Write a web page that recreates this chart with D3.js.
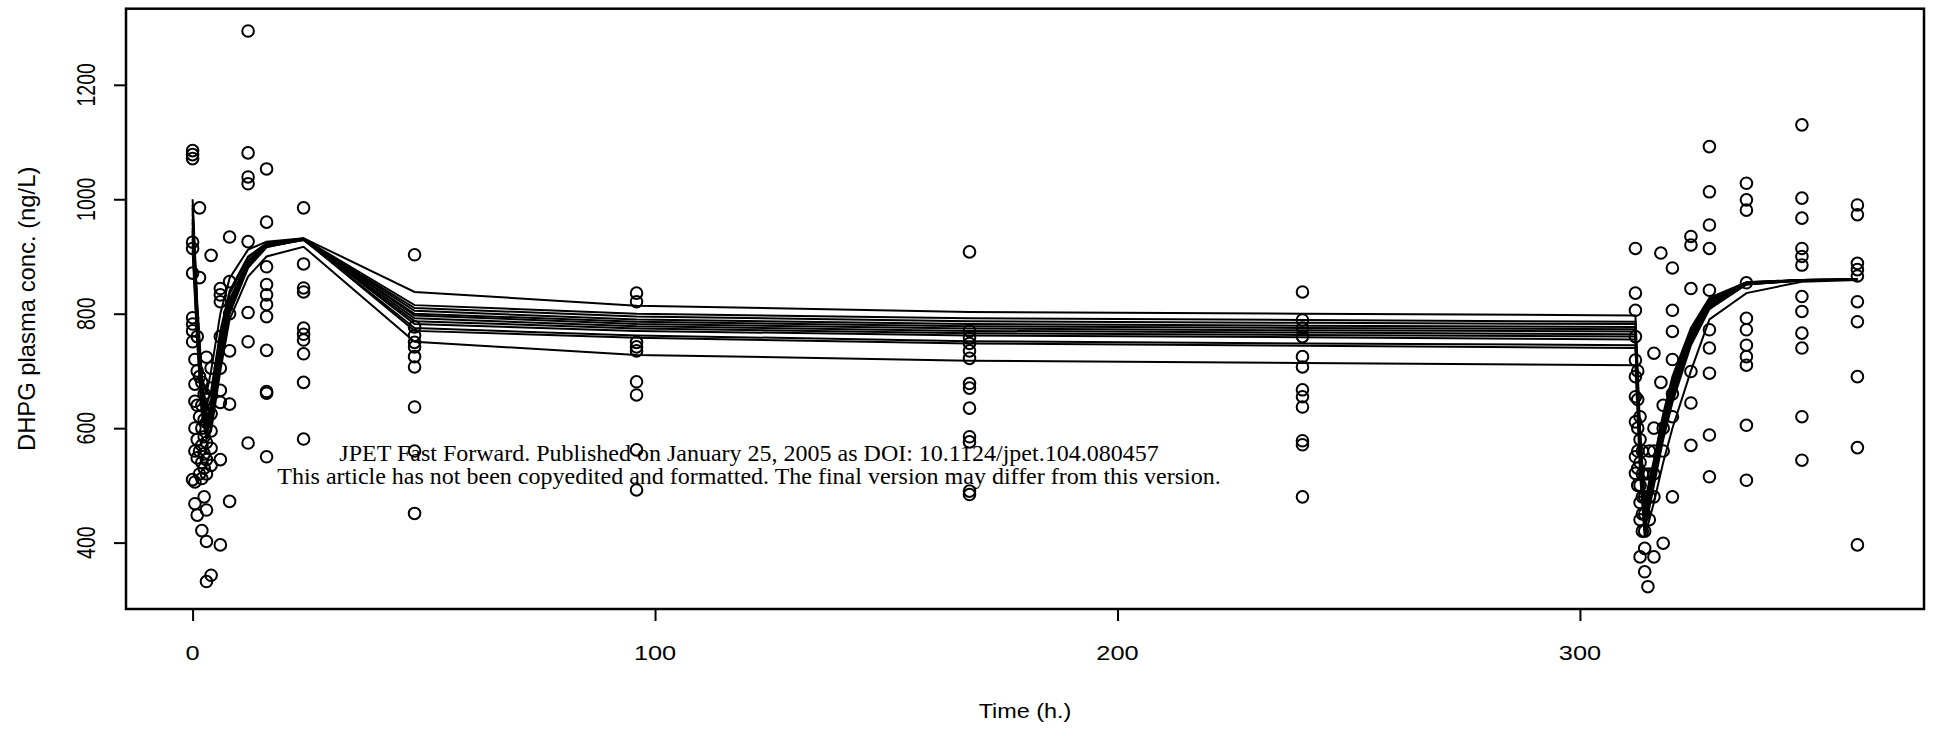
<!DOCTYPE html>
<html>
<head>
<meta charset="utf-8">
<script src="https://cdn.jsdelivr.net/npm/d3@7"></script>
<style>
    body { margin: 0; background: #fff; }
    svg { display: block; }
    text { font-family: "Liberation Sans", Arial, Helvetica, sans-serif; fill: #000; }
    .watermark { font-family: "Liberation Serif", "Times New Roman", serif; }
</style>
</head>
<body>
<div id="chart"></div>
<script>
// model fit times (h) shared by every subject curve
var curveTimes = [0, 1, 2, 3, 4, 6, 8, 12, 16, 24, 48, 96, 168, 240, 312, 313, 314, 316, 318, 320, 324, 328, 336, 348, 360]

// individual predicted DHPG (ng/L), one row per subject
var subjectCurves = [
    [1000, 820, 690, 660, 700, 800, 862, 912, 926, 932, 838, 814, 803, 800, 797, 600, 470, 545, 625, 690, 775, 828, 855, 859, 860],
    [960, 790, 650, 600, 630, 740, 820, 890, 920, 931, 815, 800, 792, 789, 786, 560, 440, 520, 600, 665, 760, 818, 853, 859, 860],
    [940, 770, 640, 590, 615, 725, 810, 885, 918, 930, 810, 795, 787, 784, 782, 550, 430, 510, 590, 655, 752, 813, 852, 858, 860],
    [985, 800, 670, 620, 640, 745, 825, 893, 921, 931, 805, 790, 782, 779, 777, 575, 455, 530, 610, 675, 765, 822, 854, 859, 860],
    [920, 760, 630, 585, 600, 710, 800, 880, 916, 930, 800, 786, 778, 775, 773, 540, 420, 500, 580, 645, 745, 808, 851, 858, 860],
    [975, 805, 680, 640, 665, 770, 840, 900, 923, 932, 797, 782, 774, 771, 769, 590, 465, 540, 620, 685, 770, 825, 855, 859, 860],
    [950, 780, 655, 610, 625, 735, 815, 888, 919, 930, 792, 778, 770, 767, 764, 565, 445, 525, 605, 670, 762, 820, 853, 859, 860],
    [930, 765, 635, 595, 610, 720, 805, 882, 917, 929, 787, 774, 766, 763, 760, 545, 425, 505, 585, 650, 748, 810, 851, 858, 860],
    [990, 810, 675, 630, 650, 760, 835, 898, 922, 931, 782, 770, 762, 759, 755, 580, 460, 535, 615, 680, 768, 823, 854, 859, 860],
    [945, 775, 645, 600, 620, 730, 812, 886, 918, 929, 775, 762, 752, 748, 745, 555, 435, 515, 595, 660, 756, 815, 852, 858, 860],
    [965, 795, 660, 612, 635, 745, 822, 891, 920, 930, 770, 758, 748, 744, 740, 570, 450, 528, 608, 672, 763, 821, 853, 859, 860],
    [910, 750, 625, 580, 595, 700, 790, 865, 900, 917, 751, 728, 718, 714, 710, 520, 410, 470, 540, 600, 700, 790, 836, 856, 859]
]

// observed samples: sampling time and the concentrations measured at that time
var obsTimes = [0, 0.5, 1, 1.5, 2, 2.5, 3, 4, 6, 8, 12, 16, 24, 48, 96, 168, 240,
    312, 312.5, 313, 313.5, 314, 314.7, 315, 316, 317.5, 318, 320, 324, 328, 336, 348, 360]
var obsValues = [
    [1085, 1078, 1071, 925, 914, 871, 793, 782, 770, 751, 510],
    [677, 647, 506, 468, 720, 600, 560],
    [700, 640, 580, 548, 448, 760],
    [985, 863, 690, 620, 560, 520],
    [680, 640, 600, 570, 540, 512, 421],
    [660, 615, 585, 555, 530, 480],
    [724, 650, 610, 575, 545, 520, 457, 402, 332],
    [902, 705, 670, 625, 595, 565, 535, 343],
    [844, 833, 821, 760, 705, 666, 645, 545, 396],
    [934, 856, 800, 735, 642, 472],
    [1294, 1081, 1039, 1027, 926, 802, 751, 574],
    [1053, 960, 882, 851, 833, 816, 795, 736, 664, 661, 550],
    [985, 887, 845, 838, 775, 764, 754, 730, 680, 581],
    [903, 777, 762, 750, 742, 725, 707, 637, 560, 451],
    [836, 821, 750, 742, 735, 681, 658, 562, 492],
    [908, 770, 758, 748, 735, 722, 678, 670, 635, 585, 576, 490, 484],
    [838, 789, 775, 760, 725, 707, 667, 655, 637, 578, 571, 480],
    [914, 836, 806, 760, 719, 690, 655, 611, 550, 521],
    [700, 650, 600, 560, 530, 500],
    [620, 580, 540, 500, 470, 440, 375],
    [560, 520, 480, 450, 420],
    [520, 480, 450, 420, 390, 349],
    [323],
    [560, 520, 480, 440],
    [731, 600, 560, 520, 480, 375],
    [906, 680],
    [640, 600, 560, 399],
    [880, 806, 769, 720, 660, 620, 480],
    [935, 920, 844, 699, 644, 570],
    [1092, 1013, 955, 914, 841, 772, 740, 696, 588, 515],
    [1028, 999, 981, 854, 792, 772, 745, 725, 710, 605, 509],
    [1130, 1002, 967, 914, 900, 885, 830, 804, 766, 740, 620, 544],
    [990, 973, 888, 877, 866, 821, 786, 690, 566, 396]
]

var xTicks = [0, 100, 200, 300]
var yTicks = [400, 600, 800, 1000, 1200]
var xTitle = 'Time (h.)'
var yTitle = 'DHPG plasma conc. (ng/L)'
var watermark = [
    'JPET Fast Forward. Published on January 25, 2005 as DOI: 10.1124/jpet.104.080457',
    'This article has not been copyedited and formatted. The final version may differ from this version.'
]

var layout = { width: 1939, height: 736, left: 126, right: 1924, top: 8.7, bottom: 609 }

var svg = d3.select('#chart').append('svg')
    .attr('width', layout.width)
    .attr('height', layout.height)

svg.append('rect')
    .attr('width', layout.width)
    .attr('height', layout.height)
    .attr('fill', 'white')

var x = d3.scaleLinear().domain([-14.4, 374.4]).range([layout.left, layout.right])
var y = d3.scaleLinear().domain([284, 1333]).range([layout.bottom, layout.top])

// subject fits
var line = d3.line()
    .x(function (d) { return x(d[0]) })
    .y(function (d) { return y(d[1]) })

svg.append('g')
    .attr('id', 'fits')
    .selectAll('path')
    .data(subjectCurves)
    .enter().append('path')
    .attr('d', function (vals) { return line(vals.map(function (v, i) { return [curveTimes[i], v] })) })
    .attr('fill', 'none')
    .attr('stroke', 'black')
    .attr('stroke-width', 2)

// observations
var points = []
obsTimes.forEach(function (t, i) {
    obsValues[i].forEach(function (v) { points.push([t, v]) })
})

svg.append('g')
    .attr('id', 'points')
    .selectAll('circle')
    .data(points)
    .enter().append('circle')
    .attr('cx', function (d) { return x(d[0]) })
    .attr('cy', function (d) { return y(d[1]) })
    .attr('r', 5.8)
    .attr('fill', 'none')
    .attr('stroke', 'black')
    .attr('stroke-width', 2)

// axes (ticks only, R style box drawn separately)
var xAxis = svg.append('g')
    .attr('transform', 'translate(0,' + layout.bottom + ')')
    .call(d3.axisBottom(x).tickValues(xTicks).tickSize(12).tickFormat(''))
var yAxis = svg.append('g')
    .attr('transform', 'translate(' + layout.left + ',0)')
    .call(d3.axisLeft(y).tickValues(yTicks).tickSize(12).tickFormat(''))
xAxis.select('.domain').remove()
yAxis.select('.domain').remove()
svg.selectAll('.tick line').attr('stroke', 'black').attr('stroke-width', 2)

svg.append('rect')
    .attr('x', layout.left)
    .attr('y', layout.top)
    .attr('width', layout.right - layout.left)
    .attr('height', layout.bottom - layout.top)
    .attr('fill', 'none')
    .attr('stroke', 'black')
    .attr('stroke-width', 2.5)

// tick labels, glyphs stretched sideways like the scanned figure
svg.append('g').selectAll('text')
    .data(xTicks)
    .enter().append('text')
    .attr('transform', function (d) { return 'translate(' + x(d) + ',660) scale(1.3,1)' })
    .attr('text-anchor', 'middle')
    .style('font-size', '19.5px')
    .text(function (d) { return d })

svg.append('g').selectAll('text')
    .data(yTicks)
    .enter().append('text')
    .attr('transform', function (d) { return 'translate(95,' + y(d) + ') rotate(-90) scale(1,1.3)' })
    .attr('text-anchor', 'middle')
    .style('font-size', '19.5px')
    .text(function (d) { return d })

svg.append('text')
    .attr('transform', 'translate(' + (layout.left + layout.right) / 2 + ',718) scale(1.2,1)')
    .attr('text-anchor', 'middle')
    .style('font-size', '19.5px')
    .text(xTitle)

svg.append('text')
    .attr('transform', 'translate(35,' + (layout.top + layout.bottom) / 2 + ') rotate(-90)')
    .attr('text-anchor', 'middle')
    .style('font-size', '23.8px')
    .text(yTitle)

// journal watermark, sized so the second line spans ~944px
var wmLines = svg.append('g').selectAll('text')
    .data(watermark)
    .enter().append('text')
    .attr('class', 'watermark')
    .attr('x', 749)
    .attr('y', function (d, i) { return 461 + i * 23 })
    .attr('text-anchor', 'middle')
    .style('font-size', '20px')
    .text(function (d) { return d })
var measured = wmLines.nodes()[1].getComputedTextLength()
wmLines.style('font-size', (20 * 944 / measured) + 'px')
</script>
</body>
</html>
